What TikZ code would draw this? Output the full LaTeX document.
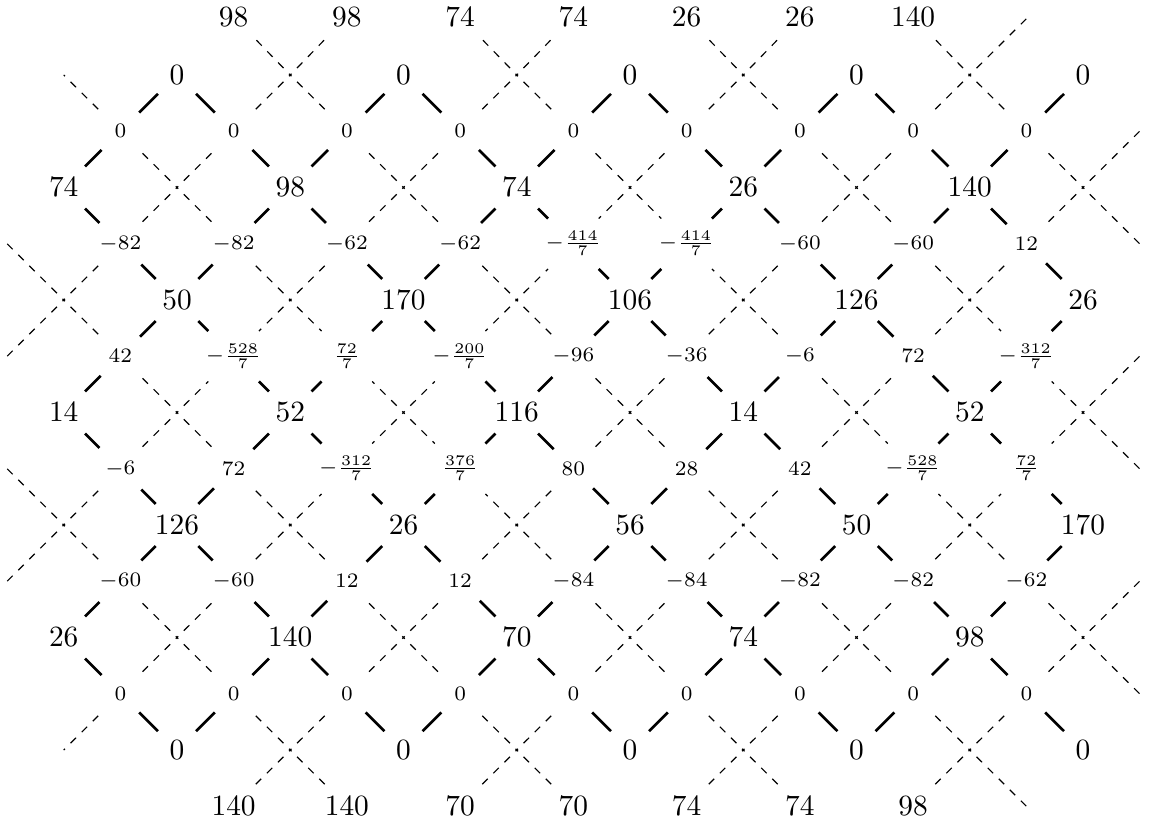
\documentclass[tikz,border=0pt]{standalone}
\newcommand\fxp[1]{177+56.625*(#1-3)}
\newcommand\fyq[1]{75+56.25*(#1-1)}
\begin{document}
\begin{tikzpicture}[x=0.3401pt,y=-0.3401pt,
  vtx/.style={inner sep=3.75pt, font=\normalsize},
  lab/.style={inner sep=4.2pt, font=\scriptsize},
  thk/.style={line width=0.9pt},
  dsh/.style={line width=0.4pt, dash pattern=on 2.6pt off 2.7pt, dash phase=2pt}]
\useasboundingbox (0,0) rectangle (1157,830);

% ---------- vertices (big numbers)
\foreach \v [count=\k from 0] in {0,0,0,0,0}
  {\pgfmathtruncatemacro\myP{3+4*\k}\node[vtx] (v\myP-1) at ({\fxp{\myP}},{\fyq{1}}) {$\v$};}
\foreach \v [count=\k from 0] in {74,98,74,26,140}
  {\pgfmathtruncatemacro\myP{1+4*\k}\node[vtx] (v\myP-3) at ({\fxp{\myP}},{\fyq{3}}) {$\v$};}
\foreach \v [count=\k from 0] in {50,170,106,126,26}
  {\pgfmathtruncatemacro\myP{3+4*\k}\node[vtx] (v\myP-5) at ({\fxp{\myP}},{\fyq{5}}) {$\v$};}
\foreach \v [count=\k from 0] in {14,52,116,14,52}
  {\pgfmathtruncatemacro\myP{1+4*\k}\node[vtx] (v\myP-7) at ({\fxp{\myP}},{\fyq{7}}) {$\v$};}
\foreach \v [count=\k from 0] in {126,26,56,50,170}
  {\pgfmathtruncatemacro\myP{3+4*\k}\node[vtx] (v\myP-9) at ({\fxp{\myP}},{\fyq{9}}) {$\v$};}
\foreach \v [count=\k from 0] in {26,140,70,74,98}
  {\pgfmathtruncatemacro\myP{1+4*\k}\node[vtx] (v\myP-11) at ({\fxp{\myP}},{\fyq{11}}) {$\v$};}
\foreach \v [count=\k from 0] in {0,0,0,0,0}
  {\pgfmathtruncatemacro\myP{3+4*\k}\node[vtx] (v\myP-13) at ({\fxp{\myP}},{\fyq{13}}) {$\v$};}

% ---------- top and bottom labels (big)
\foreach \v [count=\k from 0] in {98,98,74,74,26,26,140}
  {\pgfmathtruncatemacro\myP{4+2*\k}\node[vtx] (m\myP-0) at ({\fxp{\myP}},{\fyq{0}-2}) {$\v$};}
\foreach \v [count=\k from 0] in {140,140,70,70,74,74,98}
  {\pgfmathtruncatemacro\myP{4+2*\k}\node[vtx] (m\myP-14) at ({\fxp{\myP}},{\fyq{14}}) {$\v$};}
\coordinate (m18-0) at ({\fxp{18}},{\fyq{0}});
\coordinate (m18-14) at ({\fxp{18}},{\fyq{14}});
\foreach \q in {2,4,...,12}{
  \coordinate (m0-\q) at ({\fxp{0}},{\fyq{\q}});
  \coordinate (m20-\q) at ({\fxp{20}},{\fyq{\q}});
}

% ---------- edge labels (small)
\foreach \v [count=\k from 0] in {0,0,0,0,0,0,0,0,0}
  {\pgfmathtruncatemacro\myP{2+2*\k}\node[lab] (m\myP-2) at ({\fxp{\myP}},{\fyq{2}}) {$\v$};}
\foreach \v [count=\k from 0] in {-82,-82,-62,-62,-\frac{414}{7},-\frac{414}{7},-60,-60,12}
  {\pgfmathtruncatemacro\myP{2+2*\k}\node[lab] (m\myP-4) at ({\fxp{\myP}},{\fyq{4}}) {$\v$};}
\foreach \v [count=\k from 0] in {42,-\frac{528}{7},\frac{72}{7},-\frac{200}{7},-96,-36,-6,72,-\frac{312}{7}}
  {\pgfmathtruncatemacro\myP{2+2*\k}\node[lab] (m\myP-6) at ({\fxp{\myP}},{\fyq{6}}) {$\v$};}
\foreach \v [count=\k from 0] in {-6,72,-\frac{312}{7},\frac{376}{7},80,28,42,-\frac{528}{7},\frac{72}{7}}
  {\pgfmathtruncatemacro\myP{2+2*\k}\node[lab] (m\myP-8) at ({\fxp{\myP}},{\fyq{8}}) {$\v$};}
\foreach \v [count=\k from 0] in {-60,-60,12,12,-84,-84,-82,-82,-62}
  {\pgfmathtruncatemacro\myP{2+2*\k}\node[lab] (m\myP-10) at ({\fxp{\myP}},{\fyq{10}}) {$\v$};}
\foreach \v [count=\k from 0] in {0,0,0,0,0,0,0,0,0}
  {\pgfmathtruncatemacro\myP{2+2*\k}\node[lab] (m\myP-12) at ({\fxp{\myP}},{\fyq{12}}) {$\v$};}

% ---------- thick edges: vertex -> edge label
\foreach \q in {2,4,...,12}{
  \foreach \p in {2,4,...,18}{
    \pgfmathtruncatemacro\myR{mod(\p+\q,4)}
    \pgfmathtruncatemacro\myQU{\q-1}
    \pgfmathtruncatemacro\myQD{\q+1}
    \ifnum\myR=0
      \pgfmathtruncatemacro\myPU{\p+1}\pgfmathtruncatemacro\myPD{\p-1}
    \else
      \pgfmathtruncatemacro\myPU{\p-1}\pgfmathtruncatemacro\myPD{\p+1}
    \fi
    \draw[thk] (v\myPU-\myQU) -- (m\p-\q);
    \draw[thk] (v\myPD-\myQD) -- (m\p-\q);
  }
}

% ---------- dashed dual edges: face centre -> edge midpoint
\newcommand\fullface[2]{%
  \coordinate (f#1-#2) at ({\fxp{#1}},{\fyq{#2}});
  \pgfmathtruncatemacro\myPL{#1-1}\pgfmathtruncatemacro\myPR{#1+1}%
  \pgfmathtruncatemacro\myQU{#2-1}\pgfmathtruncatemacro\myQD{#2+1}%
  \draw[dsh] (f#1-#2) -- (m\myPL-\myQU);
  \draw[dsh] (f#1-#2) -- (m\myPR-\myQU);
  \draw[dsh] (f#1-#2) -- (m\myPL-\myQD);
  \draw[dsh] (f#1-#2) -- (m\myPR-\myQD);
}
\foreach \q in {3,7,11}{\foreach \p in {3,7,11,15,19}{\fullface{\p}{\q}}}
\foreach \q in {5,9}{\foreach \p in {1,5,9,13,17}{\fullface{\p}{\q}}}
\foreach \q in {1,13}{\foreach \p in {5,9,13,17}{\fullface{\p}{\q}}}
\coordinate (f1-1) at ({\fxp{1}},{\fyq{1}});
\coordinate (f1-13) at ({\fxp{1}},{\fyq{13}});
\draw[dsh] (f1-1) -- (m2-2);
\draw[dsh] (f1-13) -- (m2-12);
\end{tikzpicture}
\end{document}
